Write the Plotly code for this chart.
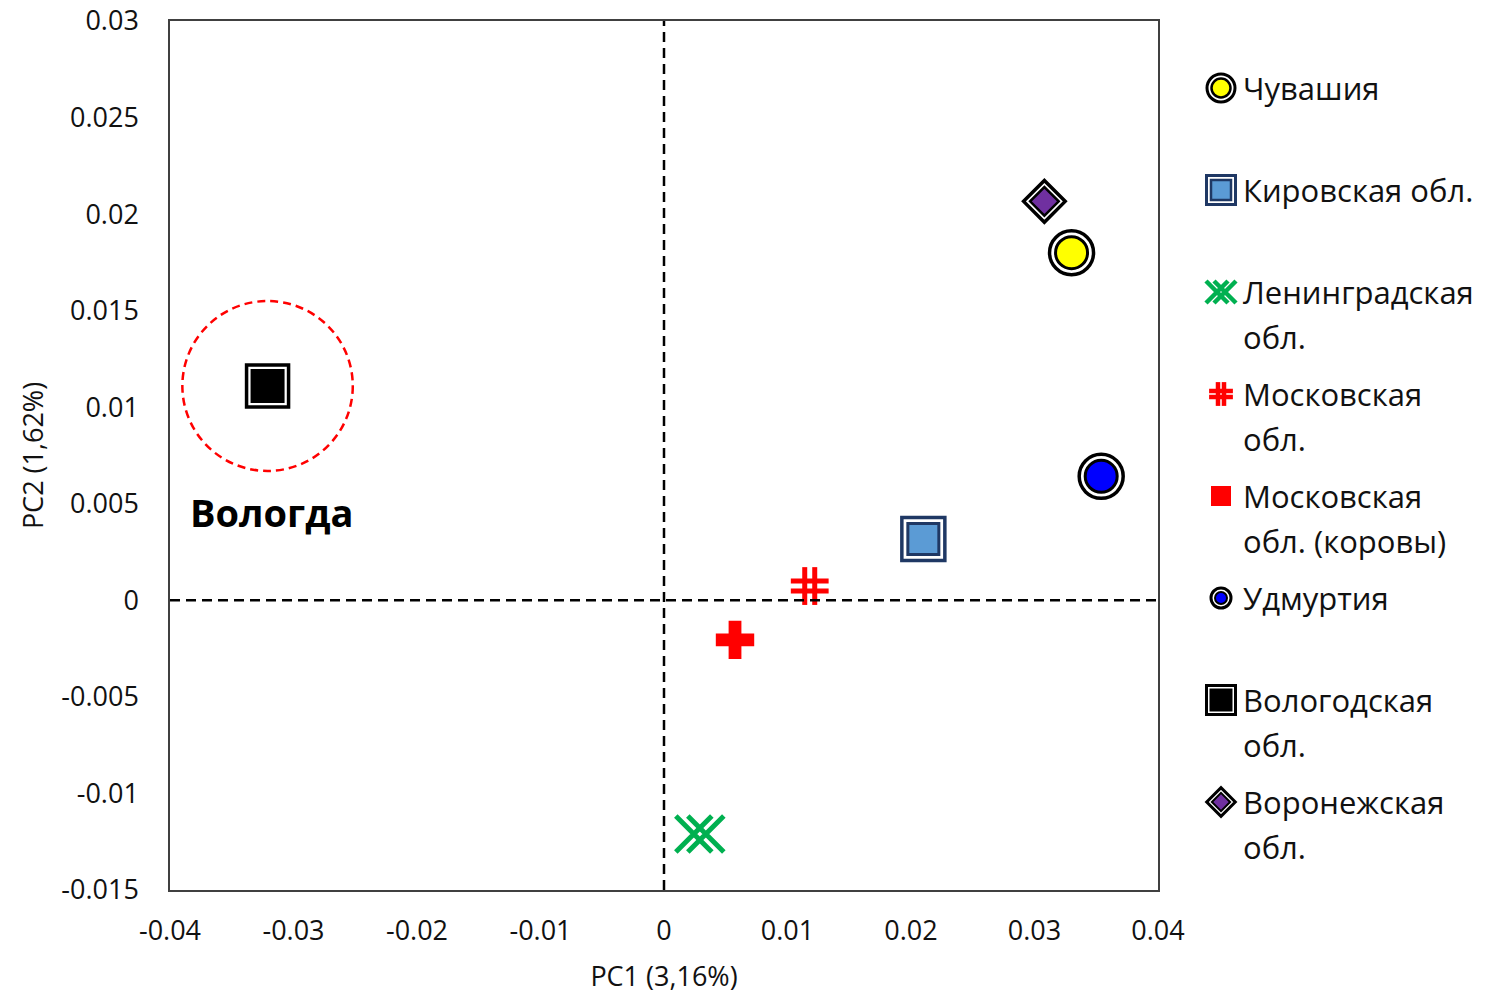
import plotly.graph_objects as go

# ---------------- data ----------------
regions = ["Чувашия", "Кировская обл.", "Ленинградская обл.", "Московская обл.",
           "Московская обл. (коровы)", "Удмуртия", "Вологодская обл.", "Воронежская обл."]
pc1 = [0.0330, 0.0210, 0.0029, 0.0118, 0.00575, 0.0354, -0.0321, 0.0308]
pc2 = [0.0180, 0.00317, -0.0121, 0.00074, -0.00205, 0.00642, 0.0111, 0.02066]
legend_lines = [["Чувашия"], ["Кировская обл."], ["Ленинградская", "обл."],
                ["Московская", "обл."], ["Московская", "обл. (коровы)"], ["Удмуртия"],
                ["Вологодская", "обл."], ["Воронежская", "обл."]]
x_tickvals = [-0.04, -0.03, -0.02, -0.01, 0, 0.01, 0.02, 0.03, 0.04]
x_ticktext = ["-0.04", "-0.03", "-0.02", "-0.01", "0", "0.01", "0.02", "0.03", "0.04"]
y_tickvals = [-0.015, -0.01, -0.005, 0, 0.005, 0.01, 0.015, 0.02, 0.025, 0.03]
y_ticktext = ["-0.015", "-0.01", "-0.005", "0", "0.005", "0.01", "0.015", "0.02", "0.025", "0.03"]
x_title = "PC1 (3,16%)"
y_title = "PC2 (1,62%)"
highlight_label = "Вологда"
highlight_index = 6

# ---------------- styles ----------------
FONT = "'Open Sans', 'Noto Sans', sans-serif"
TXT = "#111111"
NAVY = "#1F3864"
GREEN = "#00B050"
RED = "#FF0000"

def ring(sym, fill, edge, outer, inner, w_out=3.5, w_in=3):
    return [dict(symbol=sym, size=outer, color="white", line=dict(color=edge, width=w_out)),
            dict(symbol=sym, size=inner, color=fill, line=dict(color=edge, width=w_in))]

def double_x(color, size, gap, width):
    # two thin X's side by side -> crossed double lines
    return [dict(symbol="x-thin-open", size=size, angle=a, standoff=gap, color=color,
                 line=dict(color=color, width=width)) for a in (90, 270)]

def hash_mark(color, size, gap, width):
    # four short bars forming a compact '#'
    return [dict(symbol="line-ew-open", size=size, angle=a, standoff=gap, color=color,
                 line=dict(color=color, width=width)) for a in (0, 90, 180, 270)]

plot_styles = [
    ring("circle", "#FFFF00", "black", 44, 32),
    ring("square", "#5B9BD5", NAVY, 43, 31),
    double_x(GREEN, 36, 6, 5),
    hash_mark(RED, 27, 5, 5),
    [dict(symbol="cross", size=32, color=RED, line=dict(color=RED, width=0))],
    ring("circle", "#0000FF", "black", 44, 32),
    [dict(symbol="square", size=42, color="white", line=dict(color="black", width=3.5)),
     dict(symbol="square", size=34, color="black", line=dict(color="black", width=0))],
    ring("diamond", "#7030A0", "black", 32, 22, 3.5, 2.5),
]
legend_styles = [
    ring("circle", "#FFFF00", "black", 28, 19, 3, 2.5),
    ring("square", "#5B9BD5", NAVY, 29, 20, 3, 2.5),
    double_x(GREEN, 22, 4, 4.5),
    hash_mark(RED, 17, 3, 4.5),
    [dict(symbol="square", size=20, color=RED, line=dict(color=RED, width=0))],
    ring("circle", "#0000FF", "black", 20, 12, 3, 2),
    [dict(symbol="square", size=29, color="white", line=dict(color="black", width=3)),
     dict(symbol="square", size=23, color="black", line=dict(color="black", width=0))],
    ring("diamond", "#7030A0", "black", 22, 14, 3, 2),
]

# pixel layout
W, H = 1486, 994
ML, MT, MB = 170, 21, 104
plot_w = W - ML
main_right = 1158
leg_left = 1180
leg_marker_x = 1221
leg_text_x = 1241
leg_y0, leg_step, leg_line = 88, 102, 45

fig = go.Figure()

# main markers
for i, name in enumerate(regions):
    for layer in plot_styles[i]:
        fig.add_trace(go.Scatter(
            x=[pc1[i]], y=[pc2[i]], mode="markers", name=name, showlegend=False,
            hoverinfo="name+x+y", marker=layer, xaxis="x", yaxis="y"))

# custom legend (pixel axes)
annotations = []
for i, lines in enumerate(legend_lines):
    yy = leg_y0 + leg_step * i
    for layer in legend_styles[i]:
        fig.add_trace(go.Scatter(
            x=[leg_marker_x], y=[yy], mode="markers", showlegend=False, hoverinfo="skip",
            marker=layer, xaxis="x2", yaxis="y2"))
    for k, line in enumerate(lines):
        annotations.append(dict(
            x=leg_text_x, y=yy + k * leg_line, xref="x2", yref="y2", text=line,
            showarrow=False, xanchor="left", yanchor="middle",
            font=dict(family=FONT, size=31, color=TXT)))

# highlight label
annotations.append(dict(
    x=pc1[highlight_index], y=pc2[highlight_index], xref="x", yref="y",
    text="<b>" + highlight_label + "</b>", showarrow=False, xanchor="center",
    yanchor="middle", yshift=-126, xshift=4,
    font=dict(family=FONT, size=38, color="black")))

shapes = [
    dict(type="line", xref="x", yref="y domain", x0=0, x1=0, y0=0, y1=1,
         line=dict(color="black", width=2.5, dash="10px,6px")),
    dict(type="line", xref="x domain", yref="y", x0=0, x1=1, y0=0, y1=0,
         line=dict(color="black", width=2.5, dash="10px,6px")),
    dict(type="circle", xref="x", yref="y",
         x0=pc1[highlight_index] - 0.00690, x1=pc1[highlight_index] + 0.00690,
         y0=pc2[highlight_index] - 0.00440, y1=pc2[highlight_index] + 0.00440,
         line=dict(color=RED, width=2.5, dash="8px,5px")),
]

fig.update_layout(
    width=W, height=H,
    margin=dict(l=ML, r=0, t=MT, b=MB, pad=0, autoexpand=False),
    paper_bgcolor="white", plot_bgcolor="white",
    font=dict(family=FONT, size=27, color=TXT),
    showlegend=False,
    xaxis=dict(domain=[0, (main_right - ML) / plot_w], range=[-0.04, 0.04],
               tickvals=x_tickvals, ticktext=x_ticktext, showgrid=False, zeroline=False,
               showline=True, mirror=True, linecolor="#404040", linewidth=1.5,
               ticks="", ticklabelstandoff=16, automargin=False,
               ticklabeloverflow="allow",
               tickfont=dict(family=FONT, size=27, color=TXT),
               title=dict(text=x_title, standoff=22,
                          font=dict(family=FONT, size=27, color=TXT))),
    yaxis=dict(range=[-0.015, 0.03], tickvals=y_tickvals, ticktext=y_ticktext,
               showgrid=False, zeroline=False, showline=True, mirror=True,
               linecolor="#404040", linewidth=1.5, ticks="", ticklabelstandoff=24,
               automargin=False, ticklabeloverflow="allow",
               tickfont=dict(family=FONT, size=27, color=TXT),
               title=dict(text=y_title, standoff=10,
                          font=dict(family=FONT, size=27, color=TXT))),
    xaxis2=dict(domain=[(leg_left - ML) / plot_w, 1], range=[leg_left, W], anchor="y2",
                visible=False, fixedrange=True),
    yaxis2=dict(domain=[0, 1], range=[H - MB, MT], anchor="x2", visible=False,
                fixedrange=True),
    shapes=shapes,
    annotations=annotations,
)

fig.write_html("out.html")
